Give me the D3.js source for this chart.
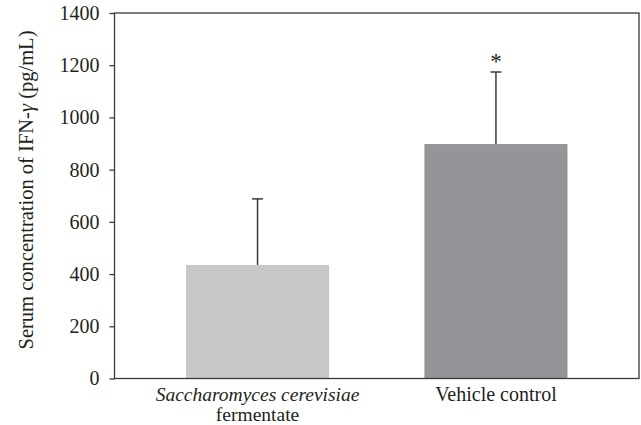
<!DOCTYPE html>
<html>
<head>
<meta charset="utf-8">
<script src="https://cdn.jsdelivr.net/npm/d3@7"></script>
<style>
  body { margin: 0; background: #fff; }
  svg text { font-family: "Liberation Serif", "DejaVu Serif", serif; fill: #231f20; }
</style>
</head>
<body>
<script>
// data
let groups = ['Saccharomyces cerevisiae fermentate', 'Vehicle control']
let means = [435, 898]
let errs = [253, 276]
let colors = ['#c7c8ca', '#939598']
let marks = ['', '*']
let yTicks = [0, 200, 400, 600, 800, 1000, 1200, 1400]

let W = 641, H = 425
let m = {l: 114.5, r: 2, t: 13, b: 46.5}
let fs = '20px'

let svg = d3.select('body').append('svg').attr('width', W).attr('height', H)

let x = d3.scaleBand().domain(groups).range([m.l, W - m.r]).paddingInner(0.4).paddingOuter(0.3)
let y = d3.scaleLinear().domain([0, 1400]).range([H - m.b, m.t])

// bars
svg.append('g').selectAll('rect').data(means).enter().append('rect')
  .attr('x', function (d, i) { return x(groups[i]) })
  .attr('width', x.bandwidth())
  .attr('y', function (d) { return y(d) })
  .attr('height', function (d) { return y(0) - y(d) })
  .attr('fill', function (d, i) { return colors[i] })

// error bars, upper only
let eb = svg.append('g').attr('stroke', '#3a3a3a').attr('stroke-width', 1.5)
means.forEach(function (d, i) {
  let cx = x(groups[i]) + x.bandwidth() / 2
  eb.append('line').attr('x1', cx).attr('x2', cx).attr('y1', y(d)).attr('y2', y(d + errs[i]))
  eb.append('line').attr('x1', cx - 5.5).attr('x2', cx + 5.5).attr('y1', y(d + errs[i])).attr('y2', y(d + errs[i]))
})

// significance marks
svg.append('g').selectAll('text').data(marks).enter().append('text')
  .attr('x', function (d, i) { return x(groups[i]) + x.bandwidth() / 2 })
  .attr('y', function (d, i) { return y(means[i] + errs[i]) - 3 })
  .attr('text-anchor', 'middle')
  .style('font-size', '23px')
  .text(function (d) { return d })

// y axis
let yAxis = svg.append('g').attr('transform', 'translate(' + m.l + ',0)')
  .call(d3.axisLeft(y).tickValues(yTicks).tickFormat(d3.format('d')).tickSize(5).tickPadding(10))
yAxis.select('.domain').remove()
yAxis.selectAll('line').attr('stroke', '#3a3a3a').attr('stroke-width', 1.3)
yAxis.selectAll('text').style('font-size', fs).attr('fill', '#231f20')

// frame
svg.append('rect')
  .attr('x', m.l).attr('y', m.t)
  .attr('width', W - m.r - m.l).attr('height', y(0) - m.t)
  .attr('fill', 'none').attr('stroke', '#3a3a3a').attr('stroke-width', 1.3)

// x labels
let xl = svg.append('g').selectAll('text').data(groups).enter().append('text')
  .attr('text-anchor', 'middle')
  .attr('x', function (d) { return x(d) + x.bandwidth() / 2 })
  .attr('y', 401)
  .style('font-size', fs)
xl.each(function (d, i) {
  let t = d3.select(this)
  if (i == 0) {
    t.style('font-size', '19.5px')
    t.append('tspan').attr('x', x(d) + x.bandwidth() / 2).style('font-style', 'italic').text('Saccharomyces cerevisiae')
    t.append('tspan').attr('x', x(d) + x.bandwidth() / 2).attr('dy', 20).text('fermentate')
  } else {
    t.text(d)
  }
})

// y title
let yt = svg.append('text')
  .attr('transform', 'translate(33,190) rotate(-90)')
  .attr('text-anchor', 'middle')
  .style('font-size', '20.5px')
yt.append('tspan').text('Serum concentration of IFN-')
yt.append('tspan').style('font-style', 'italic').text('γ')
yt.append('tspan').text(' (pg/mL)')
</script>
</body>
</html>
